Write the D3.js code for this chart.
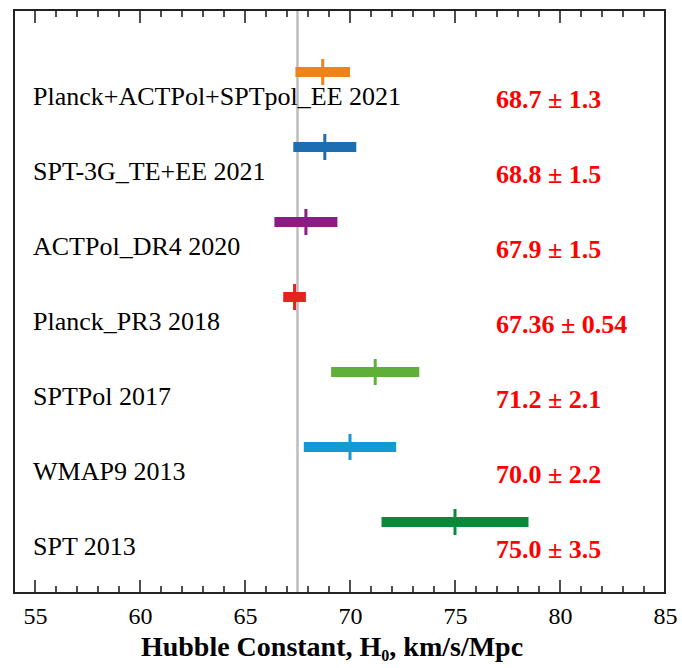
<!DOCTYPE html>
<html><head><meta charset="utf-8">
<script src="https://cdn.jsdelivr.net/npm/d3@7"></script>
<style>body{margin:0;background:#fff}svg{display:block}</style>
</head><body>
<script>
const labels = ["Planck+ACTPol+SPTpol_EE 2021","SPT-3G_TE+EE 2021","ACTPol_DR4 2020","Planck_PR3 2018","SPTPol 2017","WMAP9 2013","SPT 2013"];
const values = [68.7, 68.8, 67.9, 67.36, 71.2, 70.0, 75.0];
const errors = [1.3, 1.5, 1.5, 0.54, 2.1, 2.2, 3.5];
const valueTexts = ["68.7 ± 1.3","68.8 ± 1.5","67.9 ± 1.5","67.36 ± 0.54","71.2 ± 2.1","70.0 ± 2.2","75.0 ± 3.5"];
const colors = ["#EE8419","#1C6DB2","#8B1C84","#E5251D","#5FAF38","#1599D5","#078A3A"];
const tickValues = [55,60,65,70,75,80,85];
const refLine = 67.5;

(function(){
const W = 682, H = 668;
const svg = d3.select("body").append("svg").attr("width", W).attr("height", H);
const pL = 14, pR = 665, pT = 10, pB = 593;
const x = d3.scaleLinear().domain([54, 85]).range([pL, pR]);
const row = d3.scalePoint().domain(labels).range([105, 555]);
const font = "'Liberation Serif','Times New Roman',serif";

// reference line
svg.append("line").attr("x1", x(refLine)).attr("x2", x(refLine))
  .attr("y1", pT).attr("y2", pB).attr("stroke", "#bdbdbd").attr("stroke-width", 2.5);

// ticks
const minor = d3.range(55, 85, 1);
const g = svg.append("g");
minor.forEach(v => {
  const len = v % 5 === 0 ? 13 : 7;
  g.append("line").attr("x1", x(v)).attr("x2", x(v)).attr("y1", pT).attr("y2", pT + len)
    .attr("stroke", "#222").attr("stroke-width", 1.6);
  g.append("line").attr("x1", x(v)).attr("x2", x(v)).attr("y1", pB).attr("y2", pB - len)
    .attr("stroke", "#222").attr("stroke-width", 1.6);
});

// bottom axis labels
const axis = d3.axisBottom(x).tickValues(tickValues).tickSize(0).tickPadding(0).tickFormat(d3.format("d"));
const ax = svg.append("g").attr("transform", `translate(0,${pB})`).call(axis);
ax.select(".domain").remove();
ax.selectAll("text").attr("font-family", font).attr("font-size", 24).attr("fill", "#000")
  .attr("dy", null).attr("y", 31);

// frame
svg.append("rect").attr("x", pL).attr("y", pT).attr("width", pR - pL).attr("height", pB - pT)
  .attr("fill", "none").attr("stroke", "#222").attr("stroke-width", 2);

// bars and labels
labels.forEach((lab, i) => {
  const yc = row(lab) - 33;
  svg.append("rect").attr("x", x(values[i] - errors[i])).attr("y", yc - 5)
    .attr("width", x(values[i] + errors[i]) - x(values[i] - errors[i])).attr("height", 10)
    .attr("fill", colors[i]);
  svg.append("rect").attr("x", x(values[i]) - 1.5).attr("y", yc - 13)
    .attr("width", 3).attr("height", 26).attr("fill", colors[i]);
  svg.append("text").attr("x", 33).attr("y", row(lab)).attr("font-family", font)
    .attr("font-size", 26).attr("fill", "#000").text(lab);
  svg.append("text").attr("x", 496).attr("y", row(lab) + 3).attr("font-family", font)
    .attr("font-size", 26).attr("font-weight", "bold").attr("fill", "#ff0000").text(valueTexts[i]);
});

// title
const t = svg.append("text").attr("x", 332).attr("y", 656).attr("text-anchor", "middle")
  .attr("font-family", font).attr("font-size", 28).attr("font-weight", "bold").attr("fill", "#000");
t.append("tspan").text("Hubble Constant, H");
t.append("tspan").attr("font-size", 16).attr("dy", 5).text("0");
t.append("tspan").attr("dy", -5).text(", km/s/Mpc");
})();
</script>
</body></html>
